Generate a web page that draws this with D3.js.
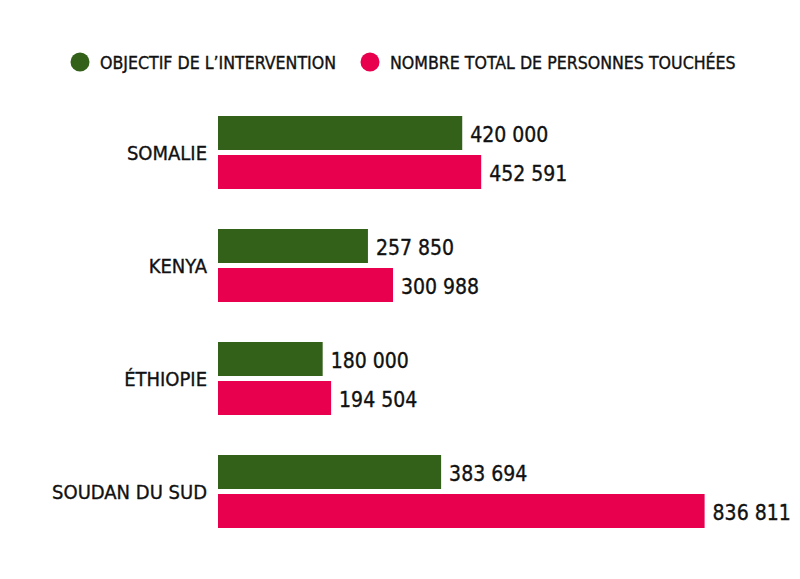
<!DOCTYPE html>
<html>
<head>
<meta charset="utf-8">
<script src="https://cdn.jsdelivr.net/npm/d3@7"></script>
<style>
  html, body { margin: 0; padding: 0; background: #fff; }
  svg text { font-family: "DejaVu Sans Condensed", "DejaVu Sans", sans-serif; font-stretch: condensed; fill: #111; stroke: #111; stroke-width: 0.35px; }
</style>
</head>
<body>
<svg id="chart" width="800" height="579"></svg>
<script>
const categories = ["SOMALIE", "KENYA", "ÉTHIOPIE", "SOUDAN DU SUD"];
const seriesNames = ["OBJECTIF DE L’INTERVENTION", "NOMBRE TOTAL DE PERSONNES TOUCHÉES"];
const objectif = [420000, 257850, 180000, 383694];
const touchees = [452591, 300988, 194504, 836811];
const colors = ["#33611A", "#E8004F"];

const svg = d3.select("#chart");
const keys = ["objectif", "touchees"];
const data = categories.map((c, i) => ({ cat: c, objectif: objectif[i], touchees: touchees[i] }));

const x = d3.scaleLinear().domain([0, 1000000]).range([218, 799.5]);
const y0 = d3.scaleBand().domain(categories).range([116, 528]).paddingInner(40 / 113).paddingOuter(0);
const y1 = d3.scaleBand().domain(keys).range([0, y0.bandwidth()]).paddingInner(5 / 39).paddingOuter(0);
const color = d3.scaleOrdinal().domain(keys).range(colors);
const fmt = v => d3.format(",")(v).replace(/,/g, " ");

// Legend
const legendX = [80, 370];
const legend = svg.append("g");
seriesNames.forEach((name, i) => {
  legend.append("circle").attr("cx", legendX[i]).attr("cy", 62).attr("r", 9.5).attr("fill", colors[i]);
  legend.append("text").attr("x", legendX[i] + 20).attr("y", 69)
    .attr("font-size", 17.6).text(name);
});

// Groups
const groups = svg.append("g").selectAll("g").data(data).join("g")
  .attr("transform", d => `translate(0,${y0(d.cat)})`);

groups.selectAll("rect").data(d => keys.map(k => ({ key: k, value: d[k] }))).join("rect")
  .attr("x", x(0))
  .attr("y", d => y1(d.key))
  .attr("width", d => x(d.value) - x(0))
  .attr("height", y1.bandwidth())
  .attr("fill", d => color(d.key));

groups.selectAll("text.val").data(d => keys.map(k => ({ key: k, value: d[k] }))).join("text")
  .attr("class", "val")
  .attr("x", d => x(d.value) + 8)
  .attr("y", d => y1(d.key) + y1.bandwidth() / 2 + 8.5)
  .attr("font-size", 21)
  .text(d => fmt(d.value));

// Category labels
groups.append("text")
  .attr("x", 207)
  .attr("y", y0.bandwidth() / 2 + 7.5)
  .attr("text-anchor", "end")
  .attr("font-size", 20)
  .text(d => d.cat);
</script>
</body>
</html>
